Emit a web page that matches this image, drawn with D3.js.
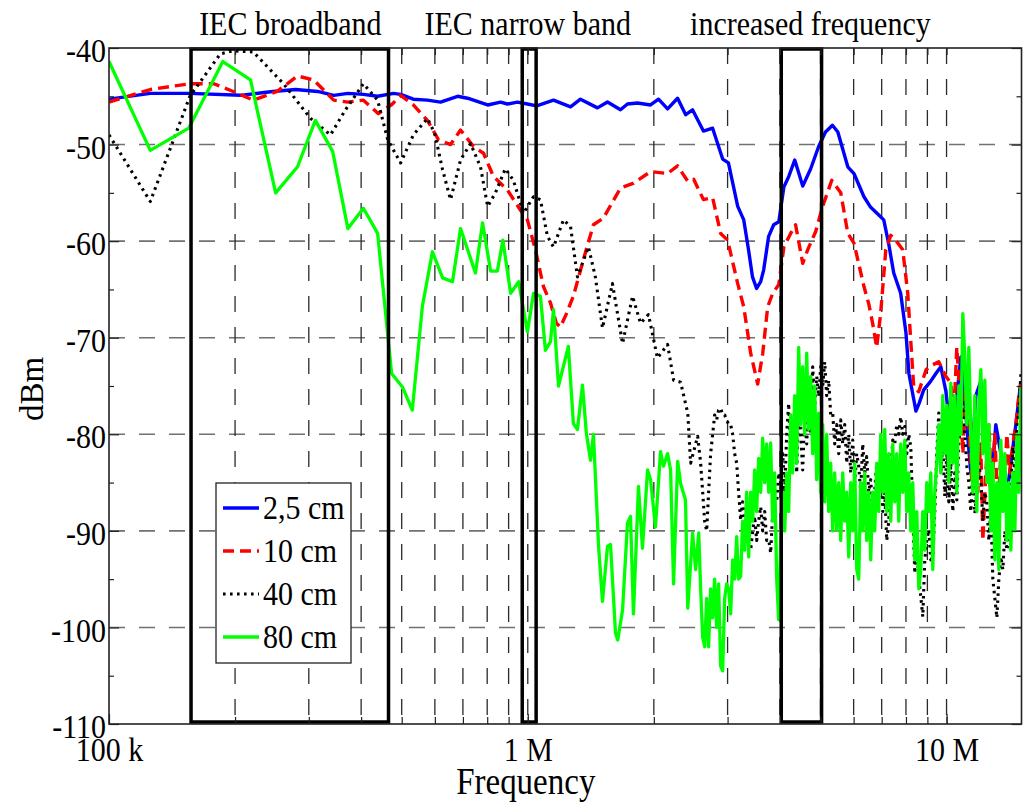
<!DOCTYPE html>
<html>
<head>
<meta charset="utf-8">
<script src="https://cdn.jsdelivr.net/npm/d3@7"></script>
<style>
  html, body { margin: 0; padding: 0; background: #fff; }
  svg { display: block; font-family: "Liberation Serif", "Times New Roman", serif; }
</style>
</head>
<body>
<svg id="chart" width="1033" height="802"></svg>
<script>
// ---------- data (frequency in MHz, level in dBm) ----------
const seriesLabels = ["2,5 cm", "10 cm", "40 cm", "80 cm"];

const blueMHz = [0.100,0.1255,0.156,0.206,0.246,0.279,0.315,0.344,0.372,0.405,0.438,0.478,0.497,0.533,0.576,0.619,0.680,0.718,0.802,0.861,0.894,0.945,0.998,1.05,1.152,1.265,1.336,1.467,1.55,1.665,1.73,1.828,1.964,2.052,2.157,2.279,2.383,2.474,2.627,2.763,2.92,3.014,3.172,3.279,3.369,3.44,3.519,3.599,3.658,3.76,3.866,3.976,4.088,4.2,4.34,4.535,4.738,4.95,5.14,5.34,5.50,5.81,6.01,6.35,6.59,6.89,7.08,7.27,7.48,7.77,8.0,8.13,8.36,8.45,8.6,8.82,9.17,9.43,9.69,9.96,10.24,10.52,10.82,11.12,11.43,11.75,12.07,12.41,12.76,13.11,13.48,13.86,14.24,14.64,15.05];
const blueDbm = [-45.3,-44.7,-44.7,-44.9,-44.5,-44.3,-44.5,-44.9,-44.7,-44.8,-45.0,-44.7,-44.8,-45.3,-45.4,-45.6,-45.0,-45.2,-45.9,-45.6,-45.8,-45.6,-45.8,-46.0,-45.4,-46.1,-45.3,-46.2,-45.6,-46.4,-45.8,-45.7,-45.9,-45.3,-46.3,-45.2,-46.9,-46.4,-48.6,-48.3,-51.5,-51.9,-56.4,-57.8,-61.0,-63.7,-64.9,-64.2,-63.0,-59.5,-58.3,-58.0,-54.4,-53.3,-51.6,-54.3,-52.5,-50.2,-48.7,-48.0,-48.7,-52.3,-53.0,-55.4,-56.5,-57.3,-57.8,-60.2,-63.3,-65.4,-69.5,-73.7,-76.5,-77.6,-76.8,-75.4,-74.5,-73.7,-73.0,-75.5,-80,-77,-72,-78,-84,-76,-74.5,-80,-86,-79,-82,-87,-83,-79,-74.5];

const redMHz = [0.100,0.1255,0.156,0.178,0.198,0.221,0.252,0.282,0.308,0.344,0.372,0.405,0.44,0.475,0.497,0.533,0.576,0.612,0.654,0.691,0.742,0.784,0.828,0.894,0.961,0.998,1.043,1.09,1.133,1.17,1.197,1.237,1.285,1.358,1.435,1.516,1.665,1.79,1.964,2.157,2.279,2.41,2.49,2.627,2.763,2.888,3.0,3.172,3.279,3.406,3.54,3.64,3.74,3.845,3.976,4.088,4.244,4.36,4.535,4.66,4.87,5.06,5.32,5.59,5.81,6.01,6.35,6.52,6.66,6.81,6.96,7.16,7.36,7.65,7.86,8.08,8.21,8.35,8.58,8.94,9.27,9.58,9.96,10.24,10.41,10.58,10.76,10.94,11.12,11.30,11.49,11.68,11.87,12.07,12.21,12.41,12.62,12.83,13.04,13.26,13.48,13.70,13.93,14.16,14.40,14.64,14.88,15.05];
const redDbm = [-45.6,-44.3,-43.7,-43.7,-44.5,-45.4,-44.5,-42.9,-43.3,-45.4,-45.6,-45.4,-46.8,-45.8,-44.9,-45.9,-47.5,-49.5,-50.0,-48.5,-50.2,-50.9,-53.3,-54.7,-56.8,-57.8,-60.9,-64.7,-66.4,-68.5,-68.9,-67.5,-65.7,-61.9,-58.3,-57.6,-54.5,-54.0,-52.8,-53.0,-52.2,-53.8,-53.6,-55.7,-55.5,-59.2,-59.9,-64.4,-66.8,-71.6,-74.8,-71.6,-66.8,-65.4,-64.5,-60.6,-59.2,-58.3,-62.3,-60.9,-59.0,-56.4,-53.7,-55.0,-59.2,-60.2,-64.7,-66.5,-68.5,-71.0,-67.5,-60.9,-59.4,-60.2,-60.9,-65.4,-70.2,-75.1,-75.6,-73.3,-72.8,-72.5,-74.0,-74.7,-78,-71,-76,-82,-74,-79,-85,-78,-86,-81,-91,-84,-79,-86,-80,-88,-82,-87,-80,-84,-81,-79,-76,-74.7];

const blackMHz = [0.100,0.1255,0.156,0.1845,0.198,0.221,0.261,0.303,0.338,0.367,0.405,0.438,0.463,0.497,0.533,0.576,0.599,0.626,0.654,0.691,0.73,0.771,0.802,0.837,0.884,0.924,0.977,1.032,1.072,1.114,1.152,1.217,1.265,1.314,1.396,1.45,1.508,1.593,1.684,1.779,1.859,1.942,2.04,2.157,2.23,2.317,2.41,2.448,2.545];
const blackDbm = [-49.0,-55.9,-45.0,-40.6,-40.3,-40.4,-43.7,-47.3,-49.0,-46.4,-43.7,-45.4,-49.5,-51.9,-49.0,-47.3,-48.8,-52.6,-55.7,-51.6,-49.9,-52.3,-56.4,-55.0,-52.5,-53.7,-57.1,-55.4,-55.7,-59.5,-60.6,-57.8,-58.5,-63.7,-60.6,-63.7,-69.0,-64.4,-70.6,-65.7,-68.5,-67.6,-72.1,-70.7,-74.4,-74.6,-77.8,-83.0,-80.2];

const greenMHz = [0.100,0.1255,0.155,0.187,0.2177,0.250,0.282,0.311,0.342,0.372,0.405,0.438,0.473,0.502,0.530,0.560,0.592,0.626,0.661,0.691,0.750,0.78,0.815,0.846,0.872,0.91,0.951,0.998,1.032,1.072,1.102,1.133,1.152,1.184,1.25,1.285,1.314,1.351,1.38,1.412,1.435,1.476,1.508,1.55,1.576,1.62,1.64,1.684,1.73,1.759,1.788,1.838,1.879,1.932,1.964,2.018,2.075,2.109,2.157,2.193,2.229,2.28,2.317,2.38,2.41,2.475,2.516,2.56];
const greenDbm = [-41.4,-50.6,-48.3,-41.4,-43.3,-55.0,-52.3,-47.5,-50.7,-58.7,-56.6,-59.2,-73.7,-75.1,-77.5,-66.8,-61.1,-63.8,-64.2,-58.7,-63.3,-58.1,-63.1,-63.1,-59.9,-65.4,-64.2,-69.4,-65.4,-65.7,-71.3,-70.4,-67.1,-75.0,-70.9,-78.9,-79.5,-74.9,-79.9,-82.7,-80.0,-91.6,-97.3,-91.6,-91.4,-100.6,-101.3,-98.2,-89.2,-88.5,-98.6,-85.4,-91.8,-83.7,-84.7,-89.6,-81.8,-83.3,-82.0,-83.7,-95.5,-82.8,-85.1,-86.8,-98.0,-90.2,-94.0,-90.2];

// dense upper sweep (2.6 - 15 MHz) shared by the 40 cm and 80 cm traces
const sweepMHz = [
  2.587,2.616,2.645,2.674,2.703,2.733,2.764,2.794,2.825,2.856,
  2.888,2.920,2.952,2.985,3.018,3.051,3.085,3.119,3.154,3.188,
  3.224,3.259,3.295,3.332,3.369,3.406,3.444,3.482,3.520,3.559,
  3.599,3.638,3.679,3.719,3.761,3.802,3.844,3.887,3.930,3.973,
  4.017,4.062,4.107,4.152,4.198,4.244,4.291,4.339,4.387,4.435,
  4.484,4.534,4.584,4.635,4.686,4.738,4.790,4.843,4.897,4.951,
  5.006,5.061,5.117,5.174,5.231,5.289,5.348,5.407,5.467,5.527,
  5.588,5.650,5.713,5.776,5.840,5.904,5.970,6.036,6.102,6.170,
  6.238,6.307,6.377,6.447,6.519,6.591,6.664,6.738,6.812,6.888,
  6.964,7.041,7.119,7.198,7.277,7.358,7.440,7.522,7.605,7.689,
  7.774,7.860,7.947,8.035,8.124,8.214,8.305,8.397,8.490,8.584,
  8.679,8.775,8.872,8.970,9.069,9.170,9.271,9.374,9.477,9.582,
  9.689,9.796,9.904,10.014,10.125,10.237,10.350,10.465,10.581,10.698,
  10.817,10.936,11.057,11.180,11.303,11.428,11.555,11.683,11.812,11.943,
  12.075,12.209,12.344,12.480,12.618,12.758,12.899,13.042,13.186,13.332,
  13.480,13.629,13.780,13.932,14.086,14.242,14.400,14.559,14.720,14.883,
  15.048];

const blackSweepDbm = [
  -83,-86,-89,-90,-86,-82,-80,-78,-78.5,-77.5,
  -77.3,-78,-78,-78.5,-79,-79,-80,-82,-83,-86,
  -88.9,-87,-89,-91,-89,-92,-90,-88.5,-91,-89,
  -87.5,-90,-88,-91,-90.9,-92.3,-88,-86,-87,-84,
  -85,-82,-86,-80,-76.8,-82,-80.6,-78,-84,-76.4,
  -80,-83.7,-78,-81,-76,-80,-73,-77,-74,-76.1,
  -73,-75,-72.5,-76,-74.4,-78,-77.8,-81,-79,-82,
  -78.5,-81,-79,-83,-80,-84,-80.6,-85,-82,-83.3,
  -86,-81,-84,-82.3,-86,-84.7,-88,-85.8,-83,-85,
  -83,-88,-86,-91,-89,-84,-80.6,-81,-79,-80,
  -78.2,-80,-79.2,-82,-80,-81.3,-88,-94.4,-91,-95,
  -96.8,-98.9,-93,-91,-89.9,-93,-92.7,-88,-82,-77.8,
  -84,-81,-86.4,-82,-87,-83,-88,-84,-86.8,-81,
  -78,-76.4,-80,-83.3,-85,-88,-84,-88.2,-86,-83,
  -84.7,-89,-86,-87.1,-91,-88,-95,-97,-99,-95,
  -92.7,-94,-90,-92,-90.9,-85,-81.3,-84,-79,-77.8,
  -73.7];

const greenSweepDbm = [
  -96,-101,-102,-97,-102,-96,-99,-95,-100,-95.5,
  -104,-104.5,-97,-95.5,-96,-98.6,-93,-95,-90.6,-95,
  -94.7,-89,-92,-86,-92.7,-86,-89,-83.7,-88,-82.5,
  -86,-80.4,-85,-81,-86,-80.9,-89,-84,-95,-99.2,
  -91,-86,-90,-84,-88,-78,-84,-76,-83,-71,
  -79,-73,-80,-71.6,-79.5,-74,-82,-75,-84.7,-77.8,
  -86,-79,-87,-80,-88,-83,-90,-84,-89.9,-85,
  -91,-84,-89,-86,-92.7,-85,-90,-83,-94,-95,
  -85,-90,-84,-91,-86,-93,-86,-90,-83,-88,
  -80,-86,-79.5,-88,-82,-89,-81,-87,-82,-89,
  -81,-86,-80.6,-88,-84,-90,-85,-93,-88,-96,
  -94,-88,-92,-85,-88,-84,-94,-86,-83,-79,
  -84,-76,-82,-77,-85,-74.7,-83,-76,-86,-75,
  -80,-67.5,-72,-79,-71,-80,-86,-76,-88,-77,
  -73.3,-82,-74.4,-85,-79,-90,-83,-93,-85,-94,
  -80.6,-88,-82,-91,-85,-92,-84,-90,-80,-86,
  -75.1];

// axis ticks
const yMajorTicks = [-40,-50,-60,-70,-80,-90,-100,-110];
const yMinorTicks = [-45,-55,-65,-75,-85,-95,-105];
const yGridLines = [-50,-60,-70,-80,-90,-100];
const xLabelTicks = [0.1, 1, 10];
const xTickLabels = ["100 k", "1 M", "10 M"];
const xGridMHz = [0.2,0.3,0.4,0.5,0.6,0.7,0.8,0.9,1,2,3,4,5,6,7,8,9,10];

// marked frequency bands
const bandNames = ["IEC broadband", "IEC narrow band", "increased frequency"];
const bandStartMHz = [0.157, 0.97, 4.03];
const bandEndMHz = [0.465, 1.047, 5.03];
const bandLabelMHz = [0.271, 1.0, 4.73];

// ---------- drawing ----------
const svg = d3.select("#chart");
const FONT = "'Liberation Serif', 'Times New Roman', serif";
const STRETCH = 1.14;

const x = d3.scaleLog().domain([0.1, 15.1]).range([109, 1021.5]);
const y = d3.scaleLinear().domain([-110, -40]).range([724, 48]);
const [xL, xR] = x.range();
const [yB, yT] = y.range();

const zip = (a, b) => a.map((f, i) => [f, b[i]]);
const series = [
  { label: seriesLabels[0], color: "#0000ff", dash: null,      width: 3.4, pts: zip(blueMHz, blueDbm) },
  { label: seriesLabels[1], color: "#ff0000", dash: "11,6",    width: 3.4, pts: zip(redMHz, redDbm) },
  { label: seriesLabels[2], color: "#000000", dash: "2.6,4.4", width: 3.1, pts: zip(blackMHz, blackDbm).concat(zip(sweepMHz, blackSweepDbm)) },
  { label: seriesLabels[3], color: "#00ff00", dash: null,      width: 3.3, pts: zip(greenMHz, greenDbm).concat(zip(sweepMHz, greenSweepDbm)) }
];

svg.append("defs").append("clipPath").attr("id", "plotClip")
  .append("rect").attr("x", xL).attr("y", yT).attr("width", xR - xL).attr("height", yB - yT);

// grid
const grid = svg.append("g");
grid.selectAll("line.h").data(yGridLines).join("line")
  .attr("x1", xL).attr("x2", xR).attr("y1", d => y(d)).attr("y2", d => y(d))
  .attr("stroke", "#707070").attr("stroke-width", 1.6).attr("stroke-dasharray", "16,14");
grid.selectAll("line.v").data(xGridMHz).join("line")
  .attr("x1", d => x(d)).attr("x2", d => x(d)).attr("y1", yT).attr("y2", yB)
  .attr("stroke", "#2a2a2a").attr("stroke-width", 1.3).attr("stroke-dasharray", "16,15");

// traces
const line = d3.line().x(d => x(d[0])).y(d => y(d[1]));
const traces = svg.append("g").attr("clip-path", "url(#plotClip)");
series.forEach(s => {
  traces.append("path").datum(s.pts)
    .attr("d", line).attr("fill", "none")
    .attr("stroke", s.color).attr("stroke-width", s.width)
    .attr("stroke-linejoin", "round")
    .attr("stroke-dasharray", s.dash);
});

// band boxes
const bands = bandNames.map((n, i) => ({ name: n, a: bandStartMHz[i], b: bandEndMHz[i], at: bandLabelMHz[i] }));
svg.append("g").selectAll("rect").data(bands).join("rect")
  .attr("x", d => x(d.a)).attr("width", d => x(d.b) - x(d.a))
  .attr("y", yT + 1).attr("height", yB - yT - 3)
  .attr("fill", "none").attr("stroke", "#000").attr("stroke-width", 3.5);
svg.append("g").selectAll("text").data(bands).join("text")
  .attr("transform", d => `translate(${x(d.at)},35) scale(1,${STRETCH})`)
  .attr("text-anchor", "middle").attr("font-family", FONT).attr("font-size", 30)
  .text(d => d.name);

// axes (ticks point inwards)
function styleAxis(g) {
  g.select(".domain").remove();
  g.selectAll(".tick line").attr("stroke", "#222").attr("stroke-width", 1.2);
}
svg.append("g").attr("transform", `translate(${xL},0)`)
  .call(d3.axisLeft(y).tickValues(yMinorTicks).tickSize(-5).tickFormat(""))
  .call(styleAxis);
svg.append("g").attr("transform", `translate(${xR},0)`)
  .call(d3.axisRight(y).tickValues(yMinorTicks).tickSize(-5).tickFormat(""))
  .call(styleAxis);
svg.append("g").attr("transform", `translate(${xR},0)`)
  .call(d3.axisRight(y).tickValues(yMajorTicks).tickSize(-10).tickFormat(""))
  .call(styleAxis);
svg.append("g").attr("transform", `translate(0,${yT})`)
  .call(d3.axisTop(x).tickValues(xGridMHz).tickSize(-7).tickFormat(""))
  .call(styleAxis);
svg.append("g").attr("transform", `translate(0,${yB})`)
  .call(d3.axisBottom(x).tickValues(xGridMHz).tickSize(-7).tickFormat(""))
  .call(styleAxis);

const yAxis = svg.append("g").attr("transform", `translate(${xL},0)`)
  .call(d3.axisLeft(y).tickValues(yMajorTicks).tickSize(-10).tickPadding(3).tickFormat(d3.format("d")))
  .call(styleAxis);
yAxis.attr("font-family", FONT).attr("font-size", 30);
yAxis.selectAll(".tick text").attr("fill", "#000").attr("dy", null).attr("y", 12)
  .attr("transform", `scale(1,${STRETCH})`).text(d => String(d));

const xAxis = svg.append("g").attr("transform", `translate(0,${yB})`)
  .call(d3.axisBottom(x).tickValues(xLabelTicks).tickSize(-10).tickFormat((d, i) => xTickLabels[i]))
  .call(styleAxis);
xAxis.attr("font-family", FONT).attr("font-size", 30);
xAxis.selectAll(".tick text").attr("fill", "#000").attr("dy", null).attr("y", 37.5 / STRETCH)
  .attr("transform", `scale(1,${STRETCH})`);

// frame
svg.append("rect").attr("x", xL).attr("y", yT).attr("width", xR - xL).attr("height", yB - yT)
  .attr("fill", "none").attr("stroke", "#222").attr("stroke-width", 1.6);

// axis titles
svg.append("text").attr("transform", `translate(${x(1) - 2},794) scale(1,${STRETCH})`)
  .attr("text-anchor", "middle").attr("font-family", FONT).attr("font-size", 33).text("Frequency");
svg.append("text").attr("transform", `translate(43,${(yT + yB) / 2 + 3}) rotate(-90)`)
  .attr("text-anchor", "middle").attr("font-family", FONT).attr("font-size", 33).text("dBm");

// legend
const lg = svg.append("g").attr("transform", "translate(216,483)");
lg.append("rect").attr("width", 135).attr("height", 180)
  .attr("fill", "#fff").attr("stroke", "#222").attr("stroke-width", 1.3);
const item = lg.selectAll("g.item").data(series).join("g")
  .attr("transform", (d, i) => `translate(0,${25 + i * 43})`);
item.append("line").attr("x1", 7).attr("x2", 43).attr("y1", 0).attr("y2", 0)
  .attr("stroke", d => d.color).attr("stroke-width", d => d.width)
  .attr("stroke-dasharray", d => d.dash);
item.append("text").attr("transform", `translate(47,11) scale(1,${STRETCH})`)
  .attr("font-family", FONT).attr("font-size", 30).text(d => d.label);
</script>
</body>
</html>
